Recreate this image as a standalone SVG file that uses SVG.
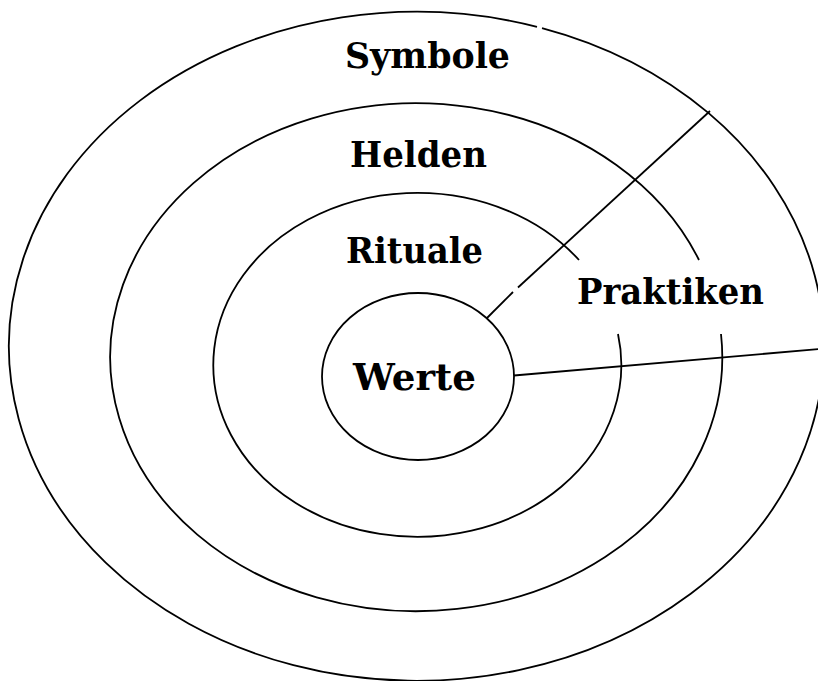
<svg xmlns="http://www.w3.org/2000/svg" width="818" height="681" viewBox="0 0 818 681">
<style>
.ring{fill:none;stroke:#000;stroke-width:1.8}
.ln{fill:none;stroke:#000;stroke-width:1.8}
.lbl{font-family:"DejaVu Serif","Liberation Serif",serif;font-weight:bold;fill:#000;font-size:34.5px}
</style>
<rect width="818" height="681" fill="#fff"/>
<g id="symbole">
<path class="ring" d="M542,28.1 A407.5,334.5 0 1 1 537,26.8"/>
<text class="lbl" x="345" y="68" textLength="165" lengthAdjust="spacingAndGlyphs">Symbole</text>
</g>
<g id="helden">
<path class="ring" d="M721,334 A306,254 0 1 1 699,260"/>
<text class="lbl" x="350" y="167" textLength="137" lengthAdjust="spacingAndGlyphs">Helden</text>
</g>
<g id="rituale">
<path class="ring" d="M618,334 A204,172 0 1 1 579,260"/>
<text class="lbl" x="346" y="263" textLength="137" lengthAdjust="spacingAndGlyphs">Rituale</text>
</g>
<g id="werte">
<ellipse class="ring" cx="418" cy="376.5" rx="96" ry="83.5"/>
<text class="lbl" x="353" y="390" style="font-size:38px" textLength="123" lengthAdjust="spacingAndGlyphs">Werte</text>
</g>
<g id="praktiken">
<text class="lbl" x="577" y="304" textLength="187" lengthAdjust="spacingAndGlyphs">Praktiken</text>
</g>
<g id="connectors">
<line class="ln" x1="487" y1="318" x2="513" y2="292"/>
<line class="ln" x1="518" y1="287.5" x2="710" y2="111"/>
<line class="ln" x1="514" y1="375.5" x2="820" y2="349"/>
</g>
</svg>
